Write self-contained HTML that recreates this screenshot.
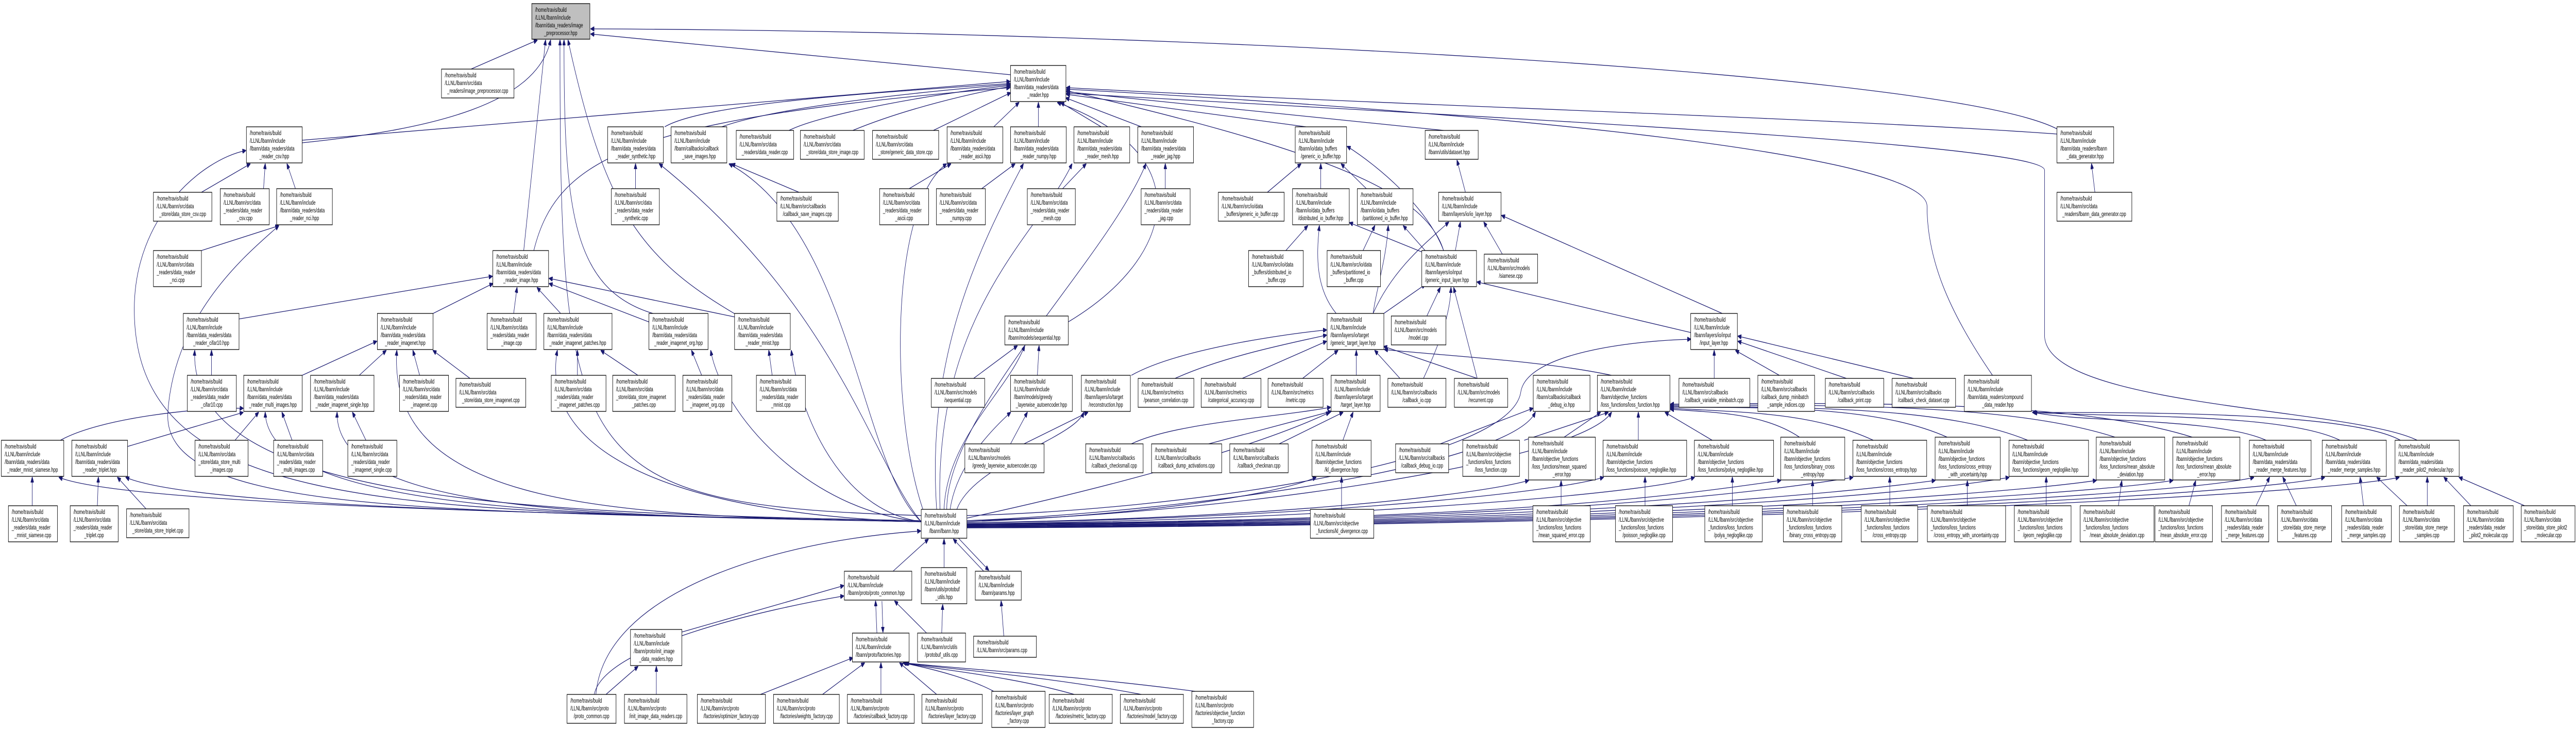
<!DOCTYPE html>
<html><head><meta charset="utf-8"><style>
html,body{margin:0;padding:0;background:#fff;width:100%;height:100%;overflow:hidden}
svg{display:block;width:100vw;height:100vh}
rect{fill:#fff;stroke:#000;stroke-width:1.3}
rect.r{fill:#bfbfbf}
text{font-family:"Liberation Sans",sans-serif;font-size:12px;fill:#000}
.c{text-anchor:middle}
path{fill:none;stroke:#191970;stroke-width:1.3}
</style></head><body>
<svg viewBox="0 0 7673 1416" preserveAspectRatio="none" xmlns="http://www.w3.org/2000/svg">
<defs><marker id="a" markerWidth="11" markerHeight="9" refX="10" refY="4.5" orient="auto" markerUnits="userSpaceOnUse"><path d="M0 0L11 4.5L0 9z" style="fill:#191970;stroke:#191970"/></marker></defs>
<g marker-end="url(#a)">
<path d="M2744 1012 C1200 990 400 1000 400 600 C400 420 600 310 732 292"/>
<path d="M2744 1012 C1300 990 480 1000 500 800 C520 600 760 480 830 438"/>
<path d="M2744 1010 C1600 995 560 980 580 680"/>
<path d="M2744 1012 C2000 1000 400 985 176 926"/>
<path d="M2744 1012 C2000 1000 600 990 375 926"/>
<path d="M2744 1012 C1800 1000 800 1000 790 800"/>
<path d="M2744 1012 C1800 1000 1000 1000 1004 800"/>
<path d="M2744 1012 C1900 1000 1150 1000 1182 680"/>
<path d="M2744 1012 C2100 1000 1600 900 1660 680"/>
<path d="M2744 1012 C2400 990 2150 800 2117 680"/>
<path d="M2744 1012 C2500 990 2380 800 2357 680"/>
<path d="M2744 1012 C2600 900 2500 600 1964 318"/>
<path d="M2744 1012 C2560 900 2540 450 2172 318"/>
<path d="M2750 990 C2650 800 2650 400 2819 318"/>
<path d="M2790 988 C2760 700 2900 500 3048 318"/>
<path d="M2800 988 C2780 600 3100 450 3193 318"/>
<path d="M2820 988 C2820 800 3300 500 3413 318"/>
<path d="M2812 988 C2820 850 3000 760 3052 671"/>
<path d="M2830 988 C2850 900 2960 830 3010 800"/>
<path d="M2850 988 C2900 900 3200 850 3228 800"/>
<path d="M2880 1005 C3200 960 3700 880 3960 800"/>
<path d="M2880 1012 C3400 1000 3800 960 3920 926"/>
<path d="M2880 1010 C3600 990 4500 900 4573 800"/>
<path d="M2880 1010 C3600 1000 4700 900 4800 800"/>
<path d="M2880 1014 C3800 1005 4400 960 4553 932"/>
<path d="M2880 1014 C3800 1008 4600 960 4776 926"/>
<path d="M2880 1016 C3900 1010 4900 960 5047 926"/>
<path d="M2880 1016 C4500 1010 5000 960 5304 932"/>
<path d="M2880 1017 C4500 1012 5200 960 5519 926"/>
<path d="M2880 1018 C4600 1012 5450 960 5764 932"/>
<path d="M2880 1019 C4700 1014 5700 960 5984 926"/>
<path d="M2880 1020 C4800 1015 5950 960 6244 932"/>
<path d="M2880 1021 C4900 1016 6200 960 6472 932"/>
<path d="M2880 1022 C5000 1017 6500 960 6713 926"/>
<path d="M2880 1023 C5100 1018 6700 960 6924 926"/>
<path d="M2880 1024 C5200 1019 6900 960 7146 926"/>
<path d="M2880 1000 C3500 990 4500 900 4530 760 C4550 680 4900 660 5036 658"/>
<path d="M1403 134 L1600 78"/>
<path d="M900 277 C1300 250 1600 200 1640 78"/>
<path d="M1560 486 L1625 78"/>
<path d="M2744 1000 C1700 980 1668 900 1668 78"/>
<path d="M1945 608 C1700 560 1680 400 1680 78"/>
<path d="M2200 613 C1900 500 1800 400 1692 78"/>
<path d="M3010 145 L1760 66"/>
<path d="M6127 250 C5800 140 3500 60 1760 56"/>
<path d="M900 272 L3008 158"/>
<path d="M1980 246 C2100 200 2600 180 3008 162"/>
<path d="M2150 246 C2300 210 2700 180 3008 164"/>
<path d="M2350 253 C2450 220 2800 180 3008 166"/>
<path d="M2540 253 C2700 210 2900 180 3008 168"/>
<path d="M2780 253 L3010 180"/>
<path d="M1590 486 C1660 300 1900 230 3008 170"/>
<path d="M2960 246 L3035 199"/>
<path d="M3093 246 L3093 199"/>
<path d="M3280 246 L3160 199"/>
<path d="M3400 246 L3175 190"/>
<path d="M3890 246 L3177 183"/>
<path d="M4300 253 L3177 178"/>
<path d="M4300 486 C4250 380 4000 300 3177 176"/>
<path d="M3183 624 C3500 500 3580 300 3150 199"/>
<path d="M5935 728 C5800 600 5740 500 5740 400 C5740 300 4500 220 3177 173"/>
<path d="M7200 854 C7000 790 6090 790 6090 650 L6090 330 C6090 280 4500 230 3177 181"/>
<path d="M6127 260 C5500 230 4000 200 3177 170"/>
<path d="M600 373 L745 318"/>
<path d="M785 366 L790 318"/>
<path d="M880 366 L855 318"/>
<path d="M600 486 L830 438"/>
<path d="M1893 366 L1893 318"/>
<path d="M2380 373 L2180 318"/>
<path d="M700 620 L1466 536"/>
<path d="M1290 608 L1468 550"/>
<path d="M1530 608 L1540 558"/>
<path d="M1670 608 L1600 558"/>
<path d="M1935 625 L1636 550"/>
<path d="M2190 615 L1636 540"/>
<path d="M630 728 L630 680"/>
<path d="M900 728 L1122 662"/>
<path d="M1070 728 L1150 680"/>
<path d="M1250 728 L1230 680"/>
<path d="M1400 734 L1290 680"/>
<path d="M1720 728 L1720 680"/>
<path d="M1900 728 L1790 680"/>
<path d="M2090 728 L2060 680"/>
<path d="M2300 728 L2290 680"/>
<path d="M180 854 C300 810 600 790 724 792"/>
<path d="M380 866 L724 800"/>
<path d="M700 854 L770 800"/>
<path d="M870 854 L840 800"/>
<path d="M1090 854 L1050 800"/>
<path d="M96 981 L96 926"/>
<path d="M290 981 L293 926"/>
<path d="M435 987 L350 926"/>
<path d="M2708 366 L2832 318"/>
<path d="M2924 366 L3023 318"/>
<path d="M3165 366 L3235 318"/>
<path d="M3471 366 L3471 318"/>
<path d="M3775 373 L3875 318"/>
<path d="M3934 366 L3934 318"/>
<path d="M4070 366 L3995 318"/>
<path d="M4300 486 C4250 400 4100 320 4013 284"/>
<path d="M4365 373 L4340 311"/>
<path d="M4335 486 L4350 431"/>
<path d="M4475 493 L4420 431"/>
<path d="M4090 608 C4150 520 4250 470 4315 431"/>
<path d="M5130 608 L4473 418"/>
<path d="M3830 486 L3895 438"/>
<path d="M3980 608 C3920 560 3920 500 3930 438"/>
<path d="M4240 490 L4020 432"/>
<path d="M4060 486 L4095 438"/>
<path d="M4090 608 C4100 560 4130 500 4135 438"/>
<path d="M4245 486 L4180 438"/>
<path d="M4122 608 L4245 552"/>
<path d="M4250 613 L4290 558"/>
<path d="M4400 734 L4330 558"/>
<path d="M5036 645 L4400 547"/>
<path d="M4240 734 C4300 650 4320 600 4322 558"/>
<path d="M2900 734 L3030 671"/>
<path d="M3090 728 L3095 671"/>
<path d="M3370 728 C3500 680 3800 650 3951 640"/>
<path d="M3500 734 C3650 690 3850 665 3951 650"/>
<path d="M3700 734 L3951 662"/>
<path d="M3880 734 L3985 680"/>
<path d="M4040 728 L4040 680"/>
<path d="M4170 734 L4095 680"/>
<path d="M4400 734 L4122 672"/>
<path d="M4800 728 C4600 700 4300 690 4124 678"/>
<path d="M3010 861 L3060 800"/>
<path d="M3050 861 L3240 800"/>
<path d="M3370 861 C3500 820 3800 810 3963 790"/>
<path d="M3600 861 L3965 798"/>
<path d="M3810 861 L4000 800"/>
<path d="M4000 854 L4030 800"/>
<path d="M3996 988 L3996 926"/>
<path d="M4290 861 L4566 792"/>
<path d="M4540 854 L4790 800"/>
<path d="M4659 848 L4767 800"/>
<path d="M4880 854 L4880 800"/>
<path d="M5100 854 L4960 800"/>
<path d="M5360 848 C5250 800 5100 800 4976 794"/>
<path d="M5580 854 C5400 800 5200 800 4976 792"/>
<path d="M5800 848 C5600 790 5300 790 4976 790"/>
<path d="M6040 854 C5800 790 5400 790 4976 788"/>
<path d="M6300 848 C6000 785 5500 785 4976 786"/>
<path d="M6530 848 C6200 780 5600 780 4976 784"/>
<path d="M4650 981 L4650 933"/>
<path d="M4900 981 L4900 926"/>
<path d="M5160 981 L5160 926"/>
<path d="M5399 981 L5399 933"/>
<path d="M5629 981 L5629 926"/>
<path d="M5860 981 L5860 933"/>
<path d="M6095 981 L6095 926"/>
<path d="M6310 981 L6320 933"/>
<path d="M6520 981 L6540 933"/>
<path d="M6720 981 L6760 926"/>
<path d="M6840 981 L6800 926"/>
<path d="M7040 981 L7030 926"/>
<path d="M7170 981 L7080 926"/>
<path d="M7230 981 L7230 926"/>
<path d="M7360 981 L7280 926"/>
<path d="M7520 981 L7325 926"/>
<path d="M6750 854 C6600 810 6200 820 6058 800"/>
<path d="M6970 854 C6800 800 6300 810 6056 800"/>
<path d="M7150 854 C7000 800 6400 800 6054 800"/>
<path d="M5106 734 L5106 680"/>
<path d="M5300 728 L5170 680"/>
<path d="M5500 734 L5177 662"/>
<path d="M5700 734 L5177 652"/>
<path d="M6240 373 L6230 318"/>
<path d="M2660 1108 L2765 1046"/>
<path d="M2812 1101 L2812 1046"/>
<path d="M2930 1108 L2840 1046"/>
<path d="M2855 1044 L2945 1106"/>
<path d="M2612 1228 L2608 1166"/>
<path d="M2627 1166 L2630 1226"/>
<path d="M2760 1228 L2665 1166"/>
<path d="M2031 1226 L2513 1136"/>
<path d="M1770 1347 C1800 1250 2300 1180 2513 1156"/>
<path d="M1775 1347 C1800 1150 2300 1050 2742 1030"/>
<path d="M1805 1347 L1900 1293"/>
<path d="M1955 1347 L1955 1293"/>
<path d="M2265 1347 L2540 1276"/>
<path d="M2450 1347 L2575 1286"/>
<path d="M2624 1347 L2624 1286"/>
<path d="M2790 1347 L2680 1286"/>
<path d="M2960 1341 C2900 1320 2800 1300 2690 1286"/>
<path d="M3200 1347 C3000 1310 2800 1300 2694 1286"/>
<path d="M3400 1347 C3100 1310 2850 1300 2696 1286"/>
<path d="M3560 1341 C3200 1310 2900 1300 2698 1286"/>
<path d="M2805 1228 L2808 1173"/>
<path d="M2990 1234 L2982 1166"/>
</g>
<g transform="translate(1584,7)"><rect class="r" width="173" height="69"/><text><tspan x="10" y="16">/home/travis/build</tspan><tspan x="10" dy="15">/LLNL/lbann/include</tspan><tspan x="10" dy="15">/lbann/data_readers/image</tspan><tspan x="86" dy="15" class="c">_preprocessor.hpp</tspan></text></g>
<g transform="translate(1315,134)"><rect width="216" height="56"/><text><tspan x="10" y="16">/home/travis/build</tspan><tspan x="10" dy="15">/LLNL/lbann/src/data</tspan><tspan x="108" dy="15" class="c">_readers/image_preprocessor.cpp</tspan></text></g>
<g transform="translate(734,246)"><rect width="166" height="70"/><text><tspan x="10" y="16">/home/travis/build</tspan><tspan x="10" dy="15">/LLNL/lbann/include</tspan><tspan x="10" dy="15">/lbann/data_readers/data</tspan><tspan x="83" dy="15" class="c">_reader_csv.hpp</tspan></text></g>
<g transform="translate(457,373)"><rect width="174" height="56"/><text><tspan x="10" y="16">/home/travis/build</tspan><tspan x="10" dy="15">/LLNL/lbann/src/data</tspan><tspan x="87" dy="15" class="c">_store/data_store_csv.cpp</tspan></text></g>
<g transform="translate(656,366)"><rect width="146" height="70"/><text><tspan x="10" y="16">/home/travis/build</tspan><tspan x="10" dy="15">/LLNL/lbann/src/data</tspan><tspan x="10" dy="15">_readers/data_reader</tspan><tspan x="73" dy="15" class="c">_csv.cpp</tspan></text></g>
<g transform="translate(824,366)"><rect width="166" height="70"/><text><tspan x="10" y="16">/home/travis/build</tspan><tspan x="10" dy="15">/LLNL/lbann/include</tspan><tspan x="10" dy="15">/lbann/data_readers/data</tspan><tspan x="83" dy="15" class="c">_reader_nci.hpp</tspan></text></g>
<g transform="translate(457,486)"><rect width="143" height="70"/><text><tspan x="10" y="16">/home/travis/build</tspan><tspan x="10" dy="15">/LLNL/lbann/src/data</tspan><tspan x="10" dy="15">_readers/data_reader</tspan><tspan x="71" dy="15" class="c">_nci.cpp</tspan></text></g>
<g transform="translate(1810,246)"><rect width="166" height="70"/><text><tspan x="10" y="16">/home/travis/build</tspan><tspan x="10" dy="15">/LLNL/lbann/include</tspan><tspan x="10" dy="15">/lbann/data_readers/data</tspan><tspan x="83" dy="15" class="c">_reader_synthetic.hpp</tspan></text></g>
<g transform="translate(1999,246)"><rect width="166" height="70"/><text><tspan x="10" y="16">/home/travis/build</tspan><tspan x="10" dy="15">/LLNL/lbann/include</tspan><tspan x="10" dy="15">/lbann/callbacks/callback</tspan><tspan x="83" dy="15" class="c">_save_images.hpp</tspan></text></g>
<g transform="translate(2193,253)"><rect width="171" height="56"/><text><tspan x="10" y="16">/home/travis/build</tspan><tspan x="10" dy="15">/LLNL/lbann/src/data</tspan><tspan x="85" dy="15" class="c">_readers/data_reader.cpp</tspan></text></g>
<g transform="translate(2384,253)"><rect width="190" height="56"/><text><tspan x="10" y="16">/home/travis/build</tspan><tspan x="10" dy="15">/LLNL/lbann/src/data</tspan><tspan x="95" dy="15" class="c">_store/data_store_image.cpp</tspan></text></g>
<g transform="translate(2599,253)"><rect width="197" height="56"/><text><tspan x="10" y="16">/home/travis/build</tspan><tspan x="10" dy="15">/LLNL/lbann/src/data</tspan><tspan x="98" dy="15" class="c">_store/generic_data_store.cpp</tspan></text></g>
<g transform="translate(1821,366)"><rect width="143" height="70"/><text><tspan x="10" y="16">/home/travis/build</tspan><tspan x="10" dy="15">/LLNL/lbann/src/data</tspan><tspan x="10" dy="15">_readers/data_reader</tspan><tspan x="71" dy="15" class="c">_synthetic.cpp</tspan></text></g>
<g transform="translate(2314,373)"><rect width="183" height="56"/><text><tspan x="10" y="16">/home/travis/build</tspan><tspan x="10" dy="15">/LLNL/lbann/src/callbacks</tspan><tspan x="91" dy="15" class="c">/callback_save_images.cpp</tspan></text></g>
<g transform="translate(1468,486)"><rect width="166" height="70"/><text><tspan x="10" y="16">/home/travis/build</tspan><tspan x="10" dy="15">/LLNL/lbann/include</tspan><tspan x="10" dy="15">/lbann/data_readers/data</tspan><tspan x="83" dy="15" class="c">_reader_image.hpp</tspan></text></g>
<g transform="translate(546,608)"><rect width="166" height="70"/><text><tspan x="10" y="16">/home/travis/build</tspan><tspan x="10" dy="15">/LLNL/lbann/include</tspan><tspan x="10" dy="15">/lbann/data_readers/data</tspan><tspan x="83" dy="15" class="c">_reader_cifar10.hpp</tspan></text></g>
<g transform="translate(1124,608)"><rect width="166" height="70"/><text><tspan x="10" y="16">/home/travis/build</tspan><tspan x="10" dy="15">/LLNL/lbann/include</tspan><tspan x="10" dy="15">/lbann/data_readers/data</tspan><tspan x="83" dy="15" class="c">_reader_imagenet.hpp</tspan></text></g>
<g transform="translate(1451,608)"><rect width="146" height="70"/><text><tspan x="10" y="16">/home/travis/build</tspan><tspan x="10" dy="15">/LLNL/lbann/src/data</tspan><tspan x="10" dy="15">_readers/data_reader</tspan><tspan x="73" dy="15" class="c">_image.cpp</tspan></text></g>
<g transform="translate(1620,608)"><rect width="203" height="70"/><text><tspan x="10" y="16">/home/travis/build</tspan><tspan x="10" dy="15">/LLNL/lbann/include</tspan><tspan x="10" dy="15">/lbann/data_readers/data</tspan><tspan x="101" dy="15" class="c">_reader_imagenet_patches.hpp</tspan></text></g>
<g transform="translate(1933,608)"><rect width="176" height="70"/><text><tspan x="10" y="16">/home/travis/build</tspan><tspan x="10" dy="15">/LLNL/lbann/include</tspan><tspan x="10" dy="15">/lbann/data_readers/data</tspan><tspan x="88" dy="15" class="c">_reader_imagenet_org.hpp</tspan></text></g>
<g transform="translate(2188,608)"><rect width="166" height="70"/><text><tspan x="10" y="16">/home/travis/build</tspan><tspan x="10" dy="15">/LLNL/lbann/include</tspan><tspan x="10" dy="15">/lbann/data_readers/data</tspan><tspan x="83" dy="15" class="c">_reader_mnist.hpp</tspan></text></g>
<g transform="translate(558,728)"><rect width="146" height="70"/><text><tspan x="10" y="16">/home/travis/build</tspan><tspan x="10" dy="15">/LLNL/lbann/src/data</tspan><tspan x="10" dy="15">_readers/data_reader</tspan><tspan x="73" dy="15" class="c">_cifar10.cpp</tspan></text></g>
<g transform="translate(726,728)"><rect width="174" height="70"/><text><tspan x="10" y="16">/home/travis/build</tspan><tspan x="10" dy="15">/LLNL/lbann/include</tspan><tspan x="10" dy="15">/lbann/data_readers/data</tspan><tspan x="87" dy="15" class="c">_reader_multi_images.hpp</tspan></text></g>
<g transform="translate(925,728)"><rect width="189" height="70"/><text><tspan x="10" y="16">/home/travis/build</tspan><tspan x="10" dy="15">/LLNL/lbann/include</tspan><tspan x="10" dy="15">/lbann/data_readers/data</tspan><tspan x="94" dy="15" class="c">_reader_imagenet_single.hpp</tspan></text></g>
<g transform="translate(1190,728)"><rect width="146" height="70"/><text><tspan x="10" y="16">/home/travis/build</tspan><tspan x="10" dy="15">/LLNL/lbann/src/data</tspan><tspan x="10" dy="15">_readers/data_reader</tspan><tspan x="73" dy="15" class="c">_imagenet.cpp</tspan></text></g>
<g transform="translate(1358,734)"><rect width="208" height="56"/><text><tspan x="10" y="16">/home/travis/build</tspan><tspan x="10" dy="15">/LLNL/lbann/src/data</tspan><tspan x="104" dy="15" class="c">_store/data_store_imagenet.cpp</tspan></text></g>
<g transform="translate(1642,728)"><rect width="163" height="70"/><text><tspan x="10" y="16">/home/travis/build</tspan><tspan x="10" dy="15">/LLNL/lbann/src/data</tspan><tspan x="10" dy="15">_readers/data_reader</tspan><tspan x="81" dy="15" class="c">_imagenet_patches.cpp</tspan></text></g>
<g transform="translate(1825,728)"><rect width="186" height="70"/><text><tspan x="10" y="16">/home/travis/build</tspan><tspan x="10" dy="15">/LLNL/lbann/src/data</tspan><tspan x="10" dy="15">_store/data_store_imagenet</tspan><tspan x="93" dy="15" class="c">_patches.cpp</tspan></text></g>
<g transform="translate(2034,728)"><rect width="146" height="70"/><text><tspan x="10" y="16">/home/travis/build</tspan><tspan x="10" dy="15">/LLNL/lbann/src/data</tspan><tspan x="10" dy="15">_readers/data_reader</tspan><tspan x="73" dy="15" class="c">_imagenet_org.cpp</tspan></text></g>
<g transform="translate(2253,728)"><rect width="146" height="70"/><text><tspan x="10" y="16">/home/travis/build</tspan><tspan x="10" dy="15">/LLNL/lbann/src/data</tspan><tspan x="10" dy="15">_readers/data_reader</tspan><tspan x="73" dy="15" class="c">_mnist.cpp</tspan></text></g>
<g transform="translate(4,854)"><rect width="186" height="70"/><text><tspan x="10" y="16">/home/travis/build</tspan><tspan x="10" dy="15">/LLNL/lbann/include</tspan><tspan x="10" dy="15">/lbann/data_readers/data</tspan><tspan x="93" dy="15" class="c">_reader_mnist_siamese.hpp</tspan></text></g>
<g transform="translate(214,854)"><rect width="166" height="70"/><text><tspan x="10" y="16">/home/travis/build</tspan><tspan x="10" dy="15">/LLNL/lbann/include</tspan><tspan x="10" dy="15">/lbann/data_readers/data</tspan><tspan x="83" dy="15" class="c">_reader_triplet.hpp</tspan></text></g>
<g transform="translate(581,854)"><rect width="158" height="70"/><text><tspan x="10" y="16">/home/travis/build</tspan><tspan x="10" dy="15">/LLNL/lbann/src/data</tspan><tspan x="10" dy="15">_store/data_store_multi</tspan><tspan x="79" dy="15" class="c">_images.cpp</tspan></text></g>
<g transform="translate(815,854)"><rect width="146" height="70"/><text><tspan x="10" y="16">/home/travis/build</tspan><tspan x="10" dy="15">/LLNL/lbann/src/data</tspan><tspan x="10" dy="15">_readers/data_reader</tspan><tspan x="73" dy="15" class="c">_multi_images.cpp</tspan></text></g>
<g transform="translate(1036,854)"><rect width="146" height="70"/><text><tspan x="10" y="16">/home/travis/build</tspan><tspan x="10" dy="15">/LLNL/lbann/src/data</tspan><tspan x="10" dy="15">_readers/data_reader</tspan><tspan x="73" dy="15" class="c">_imagenet_single.cpp</tspan></text></g>
<g transform="translate(25,981)"><rect width="146" height="70"/><text><tspan x="10" y="16">/home/travis/build</tspan><tspan x="10" dy="15">/LLNL/lbann/src/data</tspan><tspan x="10" dy="15">_readers/data_reader</tspan><tspan x="73" dy="15" class="c">_mnist_siamese.cpp</tspan></text></g>
<g transform="translate(209,981)"><rect width="143" height="70"/><text><tspan x="10" y="16">/home/travis/build</tspan><tspan x="10" dy="15">/LLNL/lbann/src/data</tspan><tspan x="10" dy="15">_readers/data_reader</tspan><tspan x="71" dy="15" class="c">_triplet.cpp</tspan></text></g>
<g transform="translate(377,987)"><rect width="186" height="56"/><text><tspan x="10" y="16">/home/travis/build</tspan><tspan x="10" dy="15">/LLNL/lbann/src/data</tspan><tspan x="93" dy="15" class="c">_store/data_store_triplet.cpp</tspan></text></g>
<g transform="translate(1878,1221)"><rect width="153" height="70"/><text><tspan x="10" y="16">/home/travis/build</tspan><tspan x="10" dy="15">/LLNL/lbann/include</tspan><tspan x="10" dy="15">/lbann/proto/init_image</tspan><tspan x="76" dy="15" class="c">_data_readers.hpp</tspan></text></g>
<g transform="translate(1689,1347)"><rect width="146" height="56"/><text><tspan x="10" y="16">/home/travis/build</tspan><tspan x="10" dy="15">/LLNL/lbann/src/proto</tspan><tspan x="73" dy="15" class="c">/proto_common.cpp</tspan></text></g>
<g transform="translate(1860,1347)"><rect width="186" height="56"/><text><tspan x="10" y="16">/home/travis/build</tspan><tspan x="10" dy="15">/LLNL/lbann/src/proto</tspan><tspan x="93" dy="15" class="c">/init_image_data_readers.cpp</tspan></text></g>
<g transform="translate(2077,1347)"><rect width="203" height="56"/><text><tspan x="10" y="16">/home/travis/build</tspan><tspan x="10" dy="15">/LLNL/lbann/src/proto</tspan><tspan x="101" dy="15" class="c">/factories/optimizer_factory.cpp</tspan></text></g>
<g transform="translate(2304,1347)"><rect width="196" height="56"/><text><tspan x="10" y="16">/home/travis/build</tspan><tspan x="10" dy="15">/LLNL/lbann/src/proto</tspan><tspan x="98" dy="15" class="c">/factories/weights_factory.cpp</tspan></text></g>
<g transform="translate(2515,1108)"><rect width="201" height="56"/><text><tspan x="10" y="16">/home/travis/build</tspan><tspan x="10" dy="15">/LLNL/lbann/include</tspan><tspan x="10" dy="15">/lbann/proto/proto_common.hpp</tspan></text></g>
<g transform="translate(2539,1228)"><rect width="169" height="56"/><text><tspan x="10" y="16">/home/travis/build</tspan><tspan x="10" dy="15">/LLNL/lbann/include</tspan><tspan x="10" dy="15">/lbann/proto/factories.hpp</tspan></text></g>
<g transform="translate(2524,1347)"><rect width="199" height="56"/><text><tspan x="10" y="16">/home/travis/build</tspan><tspan x="10" dy="15">/LLNL/lbann/src/proto</tspan><tspan x="99" dy="15" class="c">/factories/callback_factory.cpp</tspan></text></g>
<g transform="translate(3010,127)"><rect width="165" height="70"/><text><tspan x="10" y="16">/home/travis/build</tspan><tspan x="10" dy="15">/LLNL/lbann/include</tspan><tspan x="10" dy="15">/lbann/data_readers/data</tspan><tspan x="82" dy="15" class="c">_reader.hpp</tspan></text></g>
<g transform="translate(2821,246)"><rect width="166" height="70"/><text><tspan x="10" y="16">/home/travis/build</tspan><tspan x="10" dy="15">/LLNL/lbann/include</tspan><tspan x="10" dy="15">/lbann/data_readers/data</tspan><tspan x="83" dy="15" class="c">_reader_ascii.hpp</tspan></text></g>
<g transform="translate(3010,246)"><rect width="166" height="70"/><text><tspan x="10" y="16">/home/travis/build</tspan><tspan x="10" dy="15">/LLNL/lbann/include</tspan><tspan x="10" dy="15">/lbann/data_readers/data</tspan><tspan x="83" dy="15" class="c">_reader_numpy.hpp</tspan></text></g>
<g transform="translate(3199,246)"><rect width="166" height="70"/><text><tspan x="10" y="16">/home/travis/build</tspan><tspan x="10" dy="15">/LLNL/lbann/include</tspan><tspan x="10" dy="15">/lbann/data_readers/data</tspan><tspan x="83" dy="15" class="c">_reader_mesh.hpp</tspan></text></g>
<g transform="translate(3389,246)"><rect width="166" height="70"/><text><tspan x="10" y="16">/home/travis/build</tspan><tspan x="10" dy="15">/LLNL/lbann/include</tspan><tspan x="10" dy="15">/lbann/data_readers/data</tspan><tspan x="83" dy="15" class="c">_reader_jag.hpp</tspan></text></g>
<g transform="translate(3858,246)"><rect width="153" height="70"/><text><tspan x="10" y="16">/home/travis/build</tspan><tspan x="10" dy="15">/LLNL/lbann/include</tspan><tspan x="10" dy="15">/lbann/io/data_buffers</tspan><tspan x="76" dy="15" class="c">/generic_io_buffer.hpp</tspan></text></g>
<g transform="translate(4245,253)"><rect width="158" height="56"/><text><tspan x="10" y="16">/home/travis/build</tspan><tspan x="10" dy="15">/LLNL/lbann/include</tspan><tspan x="10" dy="15">/lbann/utils/dataset.hpp</tspan></text></g>
<g transform="translate(2620,366)"><rect width="146" height="70"/><text><tspan x="10" y="16">/home/travis/build</tspan><tspan x="10" dy="15">/LLNL/lbann/src/data</tspan><tspan x="10" dy="15">_readers/data_reader</tspan><tspan x="73" dy="15" class="c">_ascii.cpp</tspan></text></g>
<g transform="translate(2789,366)"><rect width="146" height="70"/><text><tspan x="10" y="16">/home/travis/build</tspan><tspan x="10" dy="15">/LLNL/lbann/src/data</tspan><tspan x="10" dy="15">_readers/data_reader</tspan><tspan x="73" dy="15" class="c">_numpy.cpp</tspan></text></g>
<g transform="translate(3060,366)"><rect width="143" height="70"/><text><tspan x="10" y="16">/home/travis/build</tspan><tspan x="10" dy="15">/LLNL/lbann/src/data</tspan><tspan x="10" dy="15">_readers/data_reader</tspan><tspan x="71" dy="15" class="c">_mesh.cpp</tspan></text></g>
<g transform="translate(3399,366)"><rect width="146" height="70"/><text><tspan x="10" y="16">/home/travis/build</tspan><tspan x="10" dy="15">/LLNL/lbann/src/data</tspan><tspan x="10" dy="15">_readers/data_reader</tspan><tspan x="73" dy="15" class="c">_jag.cpp</tspan></text></g>
<g transform="translate(3629,373)"><rect width="196" height="56"/><text><tspan x="10" y="16">/home/travis/build</tspan><tspan x="10" dy="15">/LLNL/lbann/src/io/data</tspan><tspan x="98" dy="15" class="c">_buffers/generic_io_buffer.cpp</tspan></text></g>
<g transform="translate(3850,366)"><rect width="169" height="70"/><text><tspan x="10" y="16">/home/travis/build</tspan><tspan x="10" dy="15">/LLNL/lbann/include</tspan><tspan x="10" dy="15">/lbann/io/data_buffers</tspan><tspan x="84" dy="15" class="c">/distributed_io_buffer.hpp</tspan></text></g>
<g transform="translate(4043,366)"><rect width="166" height="70"/><text><tspan x="10" y="16">/home/travis/build</tspan><tspan x="10" dy="15">/LLNL/lbann/include</tspan><tspan x="10" dy="15">/lbann/io/data_buffers</tspan><tspan x="83" dy="15" class="c">/partitioned_io_buffer.hpp</tspan></text></g>
<g transform="translate(4285,373)"><rect width="186" height="56"/><text><tspan x="10" y="16">/home/travis/build</tspan><tspan x="10" dy="15">/LLNL/lbann/include</tspan><tspan x="10" dy="15">/lbann/layers/io/io_layer.hpp</tspan></text></g>
<g transform="translate(3719,486)"><rect width="163" height="70"/><text><tspan x="10" y="16">/home/travis/build</tspan><tspan x="10" dy="15">/LLNL/lbann/src/io/data</tspan><tspan x="10" dy="15">_buffers/distributed_io</tspan><tspan x="81" dy="15" class="c">_buffer.cpp</tspan></text></g>
<g transform="translate(3953,486)"><rect width="159" height="70"/><text><tspan x="10" y="16">/home/travis/build</tspan><tspan x="10" dy="15">/LLNL/lbann/src/io/data</tspan><tspan x="10" dy="15">_buffers/partitioned_io</tspan><tspan x="79" dy="15" class="c">_buffer.cpp</tspan></text></g>
<g transform="translate(4235,486)"><rect width="163" height="70"/><text><tspan x="10" y="16">/home/travis/build</tspan><tspan x="10" dy="15">/LLNL/lbann/include</tspan><tspan x="10" dy="15">/lbann/layers/io/input</tspan><tspan x="10" dy="15">/generic_input_layer.hpp</tspan></text></g>
<g transform="translate(4421,493)"><rect width="159" height="56"/><text><tspan x="10" y="16">/home/travis/build</tspan><tspan x="10" dy="15">/LLNL/lbann/src/models</tspan><tspan x="79" dy="15" class="c">/siamese.cpp</tspan></text></g>
<g transform="translate(2993,613)"><rect width="189" height="56"/><text><tspan x="10" y="16">/home/travis/build</tspan><tspan x="10" dy="15">/LLNL/lbann/include</tspan><tspan x="10" dy="15">/lbann/models/sequential.hpp</tspan></text></g>
<g transform="translate(3953,608)"><rect width="169" height="70"/><text><tspan x="10" y="16">/home/travis/build</tspan><tspan x="10" dy="15">/LLNL/lbann/include</tspan><tspan x="10" dy="15">/lbann/layers/io/target</tspan><tspan x="10" dy="15">/generic_target_layer.hpp</tspan></text></g>
<g transform="translate(4144,613)"><rect width="163" height="56"/><text><tspan x="10" y="16">/home/travis/build</tspan><tspan x="10" dy="15">/LLNL/lbann/src/models</tspan><tspan x="81" dy="15" class="c">/model.cpp</tspan></text></g>
<g transform="translate(5036,608)"><rect width="139" height="70"/><text><tspan x="10" y="16">/home/travis/build</tspan><tspan x="10" dy="15">/LLNL/lbann/include</tspan><tspan x="10" dy="15">/lbann/layers/io/input</tspan><tspan x="69" dy="15" class="c">/input_layer.hpp</tspan></text></g>
<g transform="translate(2774,734)"><rect width="159" height="56"/><text><tspan x="10" y="16">/home/travis/build</tspan><tspan x="10" dy="15">/LLNL/lbann/src/models</tspan><tspan x="79" dy="15" class="c">/sequential.cpp</tspan></text></g>
<g transform="translate(3010,728)"><rect width="184" height="70"/><text><tspan x="10" y="16">/home/travis/build</tspan><tspan x="10" dy="15">/LLNL/lbann/include</tspan><tspan x="10" dy="15">/lbann/models/greedy</tspan><tspan x="92" dy="15" class="c">_layerwise_autoencoder.hpp</tspan></text></g>
<g transform="translate(3221,728)"><rect width="146" height="70"/><text><tspan x="10" y="16">/home/travis/build</tspan><tspan x="10" dy="15">/LLNL/lbann/include</tspan><tspan x="10" dy="15">/lbann/layers/io/target</tspan><tspan x="73" dy="15" class="c">/reconstruction.hpp</tspan></text></g>
<g transform="translate(3390,734)"><rect width="166" height="56"/><text><tspan x="10" y="16">/home/travis/build</tspan><tspan x="10" dy="15">/LLNL/lbann/src/metrics</tspan><tspan x="83" dy="15" class="c">/pearson_correlation.cpp</tspan></text></g>
<g transform="translate(3578,734)"><rect width="178" height="56"/><text><tspan x="10" y="16">/home/travis/build</tspan><tspan x="10" dy="15">/LLNL/lbann/src/metrics</tspan><tspan x="89" dy="15" class="c">/categorical_accuracy.cpp</tspan></text></g>
<g transform="translate(3777,734)"><rect width="164" height="56"/><text><tspan x="10" y="16">/home/travis/build</tspan><tspan x="10" dy="15">/LLNL/lbann/src/metrics</tspan><tspan x="82" dy="15" class="c">/metric.cpp</tspan></text></g>
<g transform="translate(3965,728)"><rect width="146" height="70"/><text><tspan x="10" y="16">/home/travis/build</tspan><tspan x="10" dy="15">/LLNL/lbann/include</tspan><tspan x="10" dy="15">/lbann/layers/io/target</tspan><tspan x="73" dy="15" class="c">/target_layer.hpp</tspan></text></g>
<g transform="translate(4134,734)"><rect width="173" height="56"/><text><tspan x="10" y="16">/home/travis/build</tspan><tspan x="10" dy="15">/LLNL/lbann/src/callbacks</tspan><tspan x="86" dy="15" class="c">/callback_io.cpp</tspan></text></g>
<g transform="translate(4332,734)"><rect width="159" height="56"/><text><tspan x="10" y="16">/home/travis/build</tspan><tspan x="10" dy="15">/LLNL/lbann/src/models</tspan><tspan x="79" dy="15" class="c">/recurrent.cpp</tspan></text></g>
<g transform="translate(4567,728)"><rect width="169" height="70"/><text><tspan x="10" y="16">/home/travis/build</tspan><tspan x="10" dy="15">/LLNL/lbann/include</tspan><tspan x="10" dy="15">/lbann/callbacks/callback</tspan><tspan x="84" dy="15" class="c">_debug_io.hpp</tspan></text></g>
<g transform="translate(4758,728)"><rect width="216" height="70"/><text><tspan x="10" y="16">/home/travis/build</tspan><tspan x="10" dy="15">/LLNL/lbann/include</tspan><tspan x="10" dy="15">/lbann/objective_functions</tspan><tspan x="10" dy="15">/loss_functions/loss_function.hpp</tspan></text></g>
<g transform="translate(5001,734)"><rect width="211" height="56"/><text><tspan x="10" y="16">/home/travis/build</tspan><tspan x="10" dy="15">/LLNL/lbann/src/callbacks</tspan><tspan x="105" dy="15" class="c">/callback_variable_minibatch.cpp</tspan></text></g>
<g transform="translate(2874,861)"><rect width="236" height="56"/><text><tspan x="10" y="16">/home/travis/build</tspan><tspan x="10" dy="15">/LLNL/lbann/src/models</tspan><tspan x="118" dy="15" class="c">/greedy_layerwise_autoencoder.cpp</tspan></text></g>
<g transform="translate(3234,861)"><rect width="171" height="56"/><text><tspan x="10" y="16">/home/travis/build</tspan><tspan x="10" dy="15">/LLNL/lbann/src/callbacks</tspan><tspan x="85" dy="15" class="c">/callback_checksmall.cpp</tspan></text></g>
<g transform="translate(3430,861)"><rect width="209" height="56"/><text><tspan x="10" y="16">/home/travis/build</tspan><tspan x="10" dy="15">/LLNL/lbann/src/callbacks</tspan><tspan x="104" dy="15" class="c">/callback_dump_activations.cpp</tspan></text></g>
<g transform="translate(3663,861)"><rect width="174" height="56"/><text><tspan x="10" y="16">/home/travis/build</tspan><tspan x="10" dy="15">/LLNL/lbann/src/callbacks</tspan><tspan x="87" dy="15" class="c">/callback_checknan.cpp</tspan></text></g>
<g transform="translate(3908,854)"><rect width="176" height="70"/><text><tspan x="10" y="16">/home/travis/build</tspan><tspan x="10" dy="15">/LLNL/lbann/include</tspan><tspan x="10" dy="15">/lbann/objective_functions</tspan><tspan x="88" dy="15" class="c">/kl_divergence.hpp</tspan></text></g>
<g transform="translate(4157,861)"><rect width="158" height="56"/><text><tspan x="10" y="16">/home/travis/build</tspan><tspan x="10" dy="15">/LLNL/lbann/src/callbacks</tspan><tspan x="79" dy="15" class="c">/callback_debug_io.cpp</tspan></text></g>
<g transform="translate(4357,854)"><rect width="169" height="70"/><text><tspan x="10" y="16">/home/travis/build</tspan><tspan x="10" dy="15">/LLNL/lbann/src/objective</tspan><tspan x="10" dy="15">_functions/loss_functions</tspan><tspan x="84" dy="15" class="c">/loss_function.cpp</tspan></text></g>
<g transform="translate(4553,848)"><rect width="199" height="83"/><text><tspan x="10" y="16">/home/travis/build</tspan><tspan x="10" dy="15">/LLNL/lbann/include</tspan><tspan x="10" dy="15">/lbann/objective_functions</tspan><tspan x="10" dy="15">/loss_functions/mean_squared</tspan><tspan x="99" dy="15" class="c">_error.hpp</tspan></text></g>
<g transform="translate(4775,854)"><rect width="249" height="70"/><text><tspan x="10" y="16">/home/travis/build</tspan><tspan x="10" dy="15">/LLNL/lbann/include</tspan><tspan x="10" dy="15">/lbann/objective_functions</tspan><tspan x="10" dy="15">/loss_functions/poisson_negloglike.hpp</tspan></text></g>
<g transform="translate(5047,854)"><rect width="236" height="70"/><text><tspan x="10" y="16">/home/travis/build</tspan><tspan x="10" dy="15">/LLNL/lbann/include</tspan><tspan x="10" dy="15">/lbann/objective_functions</tspan><tspan x="10" dy="15">/loss_functions/polya_negloglike.hpp</tspan></text></g>
<g transform="translate(2744,988)"><rect width="136" height="56"/><text><tspan x="10" y="16">/home/travis/build</tspan><tspan x="10" dy="15">/LLNL/lbann/include</tspan><tspan x="68" dy="15" class="c">/lbann/lbann.hpp</tspan></text></g>
<g transform="translate(3903,988)"><rect width="189" height="56"/><text><tspan x="10" y="16">/home/travis/build</tspan><tspan x="10" dy="15">/LLNL/lbann/src/objective</tspan><tspan x="94" dy="15" class="c">_functions/kl_divergence.cpp</tspan></text></g>
<g transform="translate(4566,981)"><rect width="171" height="70"/><text><tspan x="10" y="16">/home/travis/build</tspan><tspan x="10" dy="15">/LLNL/lbann/src/objective</tspan><tspan x="10" dy="15">_functions/loss_functions</tspan><tspan x="85" dy="15" class="c">/mean_squared_error.cpp</tspan></text></g>
<g transform="translate(4812,981)"><rect width="170" height="70"/><text><tspan x="10" y="16">/home/travis/build</tspan><tspan x="10" dy="15">/LLNL/lbann/src/objective</tspan><tspan x="10" dy="15">_functions/loss_functions</tspan><tspan x="85" dy="15" class="c">/poisson_negloglike.cpp</tspan></text></g>
<g transform="translate(5078,981)"><rect width="171" height="70"/><text><tspan x="10" y="16">/home/travis/build</tspan><tspan x="10" dy="15">/LLNL/lbann/src/objective</tspan><tspan x="10" dy="15">_functions/loss_functions</tspan><tspan x="85" dy="15" class="c">/polya_negloglike.cpp</tspan></text></g>
<g transform="translate(2744,1101)"><rect width="136" height="70"/><text><tspan x="10" y="16">/home/travis/build</tspan><tspan x="10" dy="15">/LLNL/lbann/include</tspan><tspan x="10" dy="15">/lbann/utils/protobuf</tspan><tspan x="68" dy="15" class="c">_utils.hpp</tspan></text></g>
<g transform="translate(2905,1108)"><rect width="137" height="56"/><text><tspan x="10" y="16">/home/travis/build</tspan><tspan x="10" dy="15">/LLNL/lbann/include</tspan><tspan x="68" dy="15" class="c">/lbann/params.hpp</tspan></text></g>
<g transform="translate(2733,1228)"><rect width="143" height="56"/><text><tspan x="10" y="16">/home/travis/build</tspan><tspan x="10" dy="15">/LLNL/lbann/src/utils</tspan><tspan x="71" dy="15" class="c">/protobuf_utils.cpp</tspan></text></g>
<g transform="translate(2900,1234)"><rect width="187" height="41"/><text><tspan x="10" y="16">/home/travis/build</tspan><tspan x="10" dy="15">/LLNL/lbann/src/params.cpp</tspan></text></g>
<g transform="translate(2746,1347)"><rect width="180" height="56"/><text><tspan x="10" y="16">/home/travis/build</tspan><tspan x="10" dy="15">/LLNL/lbann/src/proto</tspan><tspan x="90" dy="15" class="c">/factories/layer_factory.cpp</tspan></text></g>
<g transform="translate(2954,1341)"><rect width="159" height="70"/><text><tspan x="10" y="16">/home/travis/build</tspan><tspan x="10" dy="15">/LLNL/lbann/src/proto</tspan><tspan x="10" dy="15">/factories/layer_graph</tspan><tspan x="79" dy="15" class="c">_factory.cpp</tspan></text></g>
<g transform="translate(3125,1347)"><rect width="188" height="56"/><text><tspan x="10" y="16">/home/travis/build</tspan><tspan x="10" dy="15">/LLNL/lbann/src/proto</tspan><tspan x="94" dy="15" class="c">/factories/metric_factory.cpp</tspan></text></g>
<g transform="translate(3337,1347)"><rect width="188" height="56"/><text><tspan x="10" y="16">/home/travis/build</tspan><tspan x="10" dy="15">/LLNL/lbann/src/proto</tspan><tspan x="94" dy="15" class="c">/factories/model_factory.cpp</tspan></text></g>
<g transform="translate(3550,1341)"><rect width="184" height="70"/><text><tspan x="10" y="16">/home/travis/build</tspan><tspan x="10" dy="15">/LLNL/lbann/src/proto</tspan><tspan x="10" dy="15">/factories/objective_function</tspan><tspan x="92" dy="15" class="c">_factory.cpp</tspan></text></g>
<g transform="translate(6127,246)"><rect width="169" height="70"/><text><tspan x="10" y="16">/home/travis/build</tspan><tspan x="10" dy="15">/LLNL/lbann/include</tspan><tspan x="10" dy="15">/lbann/data_readers/lbann</tspan><tspan x="84" dy="15" class="c">_data_generator.hpp</tspan></text></g>
<g transform="translate(6127,373)"><rect width="223" height="56"/><text><tspan x="10" y="16">/home/travis/build</tspan><tspan x="10" dy="15">/LLNL/lbann/src/data</tspan><tspan x="111" dy="15" class="c">_readers/lbann_data_generator.cpp</tspan></text></g>
<g transform="translate(5236,728)"><rect width="169" height="70"/><text><tspan x="10" y="16">/home/travis/build</tspan><tspan x="10" dy="15">/LLNL/lbann/src/callbacks</tspan><tspan x="10" dy="15">/callback_dump_minibatch</tspan><tspan x="84" dy="15" class="c">_sample_indices.cpp</tspan></text></g>
<g transform="translate(5437,734)"><rect width="174" height="56"/><text><tspan x="10" y="16">/home/travis/build</tspan><tspan x="10" dy="15">/LLNL/lbann/src/callbacks</tspan><tspan x="87" dy="15" class="c">/callback_print.cpp</tspan></text></g>
<g transform="translate(5636,734)"><rect width="189" height="56"/><text><tspan x="10" y="16">/home/travis/build</tspan><tspan x="10" dy="15">/LLNL/lbann/src/callbacks</tspan><tspan x="94" dy="15" class="c">/callback_check_dataset.cpp</tspan></text></g>
<g transform="translate(5851,728)"><rect width="200" height="70"/><text><tspan x="10" y="16">/home/travis/build</tspan><tspan x="10" dy="15">/LLNL/lbann/include</tspan><tspan x="10" dy="15">/lbann/data_readers/compound</tspan><tspan x="100" dy="15" class="c">_data_reader.hpp</tspan></text></g>
<g transform="translate(5304,848)"><rect width="191" height="83"/><text><tspan x="10" y="16">/home/travis/build</tspan><tspan x="10" dy="15">/LLNL/lbann/include</tspan><tspan x="10" dy="15">/lbann/objective_functions</tspan><tspan x="10" dy="15">/loss_functions/binary_cross</tspan><tspan x="95" dy="15" class="c">_entropy.hpp</tspan></text></g>
<g transform="translate(5519,854)"><rect width="220" height="70"/><text><tspan x="10" y="16">/home/travis/build</tspan><tspan x="10" dy="15">/LLNL/lbann/include</tspan><tspan x="10" dy="15">/lbann/objective_functions</tspan><tspan x="10" dy="15">/loss_functions/cross_entropy.hpp</tspan></text></g>
<g transform="translate(5764,848)"><rect width="194" height="83"/><text><tspan x="10" y="16">/home/travis/build</tspan><tspan x="10" dy="15">/LLNL/lbann/include</tspan><tspan x="10" dy="15">/lbann/objective_functions</tspan><tspan x="10" dy="15">/loss_functions/cross_entropy</tspan><tspan x="97" dy="15" class="c">_with_uncertainty.hpp</tspan></text></g>
<g transform="translate(5984,854)"><rect width="237" height="70"/><text><tspan x="10" y="16">/home/travis/build</tspan><tspan x="10" dy="15">/LLNL/lbann/include</tspan><tspan x="10" dy="15">/lbann/objective_functions</tspan><tspan x="10" dy="15">/loss_functions/geom_negloglike.hpp</tspan></text></g>
<g transform="translate(6244,848)"><rect width="204" height="83"/><text><tspan x="10" y="16">/home/travis/build</tspan><tspan x="10" dy="15">/LLNL/lbann/include</tspan><tspan x="10" dy="15">/lbann/objective_functions</tspan><tspan x="10" dy="15">/loss_functions/mean_absolute</tspan><tspan x="102" dy="15" class="c">_deviation.hpp</tspan></text></g>
<g transform="translate(6472,848)"><rect width="200" height="83"/><text><tspan x="10" y="16">/home/travis/build</tspan><tspan x="10" dy="15">/LLNL/lbann/include</tspan><tspan x="10" dy="15">/lbann/objective_functions</tspan><tspan x="10" dy="15">/loss_functions/mean_absolute</tspan><tspan x="100" dy="15" class="c">_error.hpp</tspan></text></g>
<g transform="translate(6700,854)"><rect width="184" height="70"/><text><tspan x="10" y="16">/home/travis/build</tspan><tspan x="10" dy="15">/LLNL/lbann/include</tspan><tspan x="10" dy="15">/lbann/data_readers/data</tspan><tspan x="92" dy="15" class="c">_reader_merge_features.hpp</tspan></text></g>
<g transform="translate(6917,854)"><rect width="191" height="70"/><text><tspan x="10" y="16">/home/travis/build</tspan><tspan x="10" dy="15">/LLNL/lbann/include</tspan><tspan x="10" dy="15">/lbann/data_readers/data</tspan><tspan x="95" dy="15" class="c">_reader_merge_samples.hpp</tspan></text></g>
<g transform="translate(7134,854)"><rect width="191" height="70"/><text><tspan x="10" y="16">/home/travis/build</tspan><tspan x="10" dy="15">/LLNL/lbann/include</tspan><tspan x="10" dy="15">/lbann/data_readers/data</tspan><tspan x="95" dy="15" class="c">_reader_pilot2_molecular.hpp</tspan></text></g>
<g transform="translate(5312,981)"><rect width="174" height="70"/><text><tspan x="10" y="16">/home/travis/build</tspan><tspan x="10" dy="15">/LLNL/lbann/src/objective</tspan><tspan x="10" dy="15">_functions/loss_functions</tspan><tspan x="87" dy="15" class="c">/binary_cross_entropy.cpp</tspan></text></g>
<g transform="translate(5544,981)"><rect width="168" height="70"/><text><tspan x="10" y="16">/home/travis/build</tspan><tspan x="10" dy="15">/LLNL/lbann/src/objective</tspan><tspan x="10" dy="15">_functions/loss_functions</tspan><tspan x="84" dy="15" class="c">/cross_entropy.cpp</tspan></text></g>
<g transform="translate(5741,981)"><rect width="233" height="70"/><text><tspan x="10" y="16">/home/travis/build</tspan><tspan x="10" dy="15">/LLNL/lbann/src/objective</tspan><tspan x="10" dy="15">_functions/loss_functions</tspan><tspan x="116" dy="15" class="c">/cross_entropy_with_uncertainty.cpp</tspan></text></g>
<g transform="translate(6000,981)"><rect width="169" height="70"/><text><tspan x="10" y="16">/home/travis/build</tspan><tspan x="10" dy="15">/LLNL/lbann/src/objective</tspan><tspan x="10" dy="15">_functions/loss_functions</tspan><tspan x="84" dy="15" class="c">/geom_negloglike.cpp</tspan></text></g>
<g transform="translate(6196,981)"><rect width="220" height="70"/><text><tspan x="10" y="16">/home/travis/build</tspan><tspan x="10" dy="15">/LLNL/lbann/src/objective</tspan><tspan x="10" dy="15">_functions/loss_functions</tspan><tspan x="110" dy="15" class="c">/mean_absolute_deviation.cpp</tspan></text></g>
<g transform="translate(6419,981)"><rect width="171" height="70"/><text><tspan x="10" y="16">/home/travis/build</tspan><tspan x="10" dy="15">/LLNL/lbann/src/objective</tspan><tspan x="10" dy="15">_functions/loss_functions</tspan><tspan x="85" dy="15" class="c">/mean_absolute_error.cpp</tspan></text></g>
<g transform="translate(6617,981)"><rect width="141" height="70"/><text><tspan x="10" y="16">/home/travis/build</tspan><tspan x="10" dy="15">/LLNL/lbann/src/data</tspan><tspan x="10" dy="15">_readers/data_reader</tspan><tspan x="70" dy="15" class="c">_merge_features.cpp</tspan></text></g>
<g transform="translate(6784,981)"><rect width="161" height="70"/><text><tspan x="10" y="16">/home/travis/build</tspan><tspan x="10" dy="15">/LLNL/lbann/src/data</tspan><tspan x="10" dy="15">_store/data_store_merge</tspan><tspan x="80" dy="15" class="c">_features.cpp</tspan></text></g>
<g transform="translate(6975,981)"><rect width="148" height="70"/><text><tspan x="10" y="16">/home/travis/build</tspan><tspan x="10" dy="15">/LLNL/lbann/src/data</tspan><tspan x="10" dy="15">_readers/data_reader</tspan><tspan x="74" dy="15" class="c">_merge_samples.cpp</tspan></text></g>
<g transform="translate(7147,981)"><rect width="164" height="70"/><text><tspan x="10" y="16">/home/travis/build</tspan><tspan x="10" dy="15">/LLNL/lbann/src/data</tspan><tspan x="10" dy="15">_store/data_store_merge</tspan><tspan x="82" dy="15" class="c">_samples.cpp</tspan></text></g>
<g transform="translate(7338,981)"><rect width="148" height="70"/><text><tspan x="10" y="16">/home/travis/build</tspan><tspan x="10" dy="15">/LLNL/lbann/src/data</tspan><tspan x="10" dy="15">_readers/data_reader</tspan><tspan x="74" dy="15" class="c">_pilot2_molecular.cpp</tspan></text></g>
<g transform="translate(7510,981)"><rect width="160" height="70"/><text><tspan x="8" y="16">/home/travis/build</tspan><tspan x="8" dy="15">/LLNL/lbann/src/data</tspan><tspan x="8" dy="15">_store/data_store_pilot2</tspan><tspan x="80" dy="15" class="c">_molecular.cpp</tspan></text></g>
</svg>
</body></html>
